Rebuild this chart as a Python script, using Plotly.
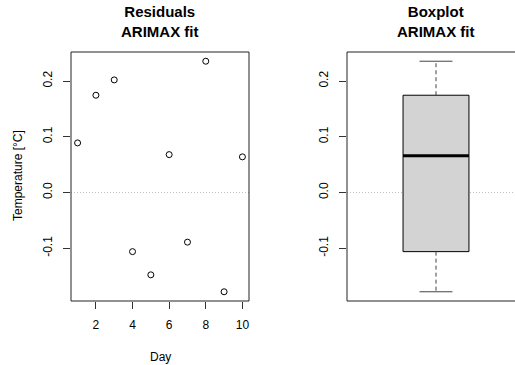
import numpy as np
import plotly.graph_objects as go

# Residuals of the ARIMAX fit, one per day
days = [1, 2, 3, 4, 5, 6, 7, 8, 9, 10]
residuals = [0.089, 0.1745, 0.202, -0.106, -0.1476, 0.068, -0.089, 0.2355, -0.178, 0.064]
x_ticks = [2, 4, 6, 8, 10]
y_ticks = [-0.1, 0.0, 0.1, 0.2]
y_tick_text = ["-0.1", "0.0", "0.1", "0.2"]

W, H = 515, 365
FONT = "Liberation Sans, Arial, sans-serif"


def fivenum(vals):
    s = np.sort(np.asarray(vals, dtype=float))
    n = len(s)
    n4 = np.floor((n + 3) / 2) / 2
    d = np.array([1, n4, (n + 1) / 2, n + 1 - n4, n]) - 1
    return 0.5 * (s[np.floor(d).astype(int)] + s[np.ceil(d).astype(int)])


wlo, q1, med, q3, whi = fivenum(residuals)

# axis ranges with 4% padding on each side
lo, hi = min(residuals), max(residuals)
pad = 0.04 * (hi - lo)
y_range = [lo - pad, hi + pad]
xpad = 0.04 * (max(days) - min(days))
x_range = [min(days) - xpad, max(days) + xpad]

# panel placement in pixels
L1, R1 = 71, 249
L2 = 347
TOP, BOT = 52, 301
px_per_unit = (R1 - L1) / 1.08
x2_range = [0.46, 0.46 + (W - L2) / px_per_unit]

fig = go.Figure()

fig.add_trace(go.Scatter(
    x=days, y=residuals, mode="markers",
    marker=dict(symbol="circle-open", size=6, color="black", line=dict(width=1, color="black")),
    xaxis="x", yaxis="y", showlegend=False, hoverinfo="x+y",
))

# boxplot pieces on the second panel
bx0, bx1 = 0.8, 1.2
cx0, cx1 = 0.9, 1.1
fig.add_trace(go.Scatter(
    x=[bx0, bx1, bx1, bx0, bx0], y=[q1, q1, q3, q3, q1],
    mode="lines", fill="toself", fillcolor="#D3D3D3",
    line=dict(color="black", width=1), xaxis="x2", yaxis="y2", showlegend=False, hoverinfo="skip",
))
fig.add_trace(go.Scatter(
    x=[bx0, bx1], y=[med, med], mode="lines",
    line=dict(color="black", width=3), xaxis="x2", yaxis="y2", showlegend=False, hoverinfo="skip",
))
for a, b in [(q3, whi), (q1, wlo)]:
    fig.add_trace(go.Scatter(
        x=[1, 1], y=[a, b], mode="lines",
        line=dict(color="#444444", width=1, dash="4px,3px"), xaxis="x2", yaxis="y2",
        showlegend=False, hoverinfo="skip",
    ))
for w in [whi, wlo]:
    fig.add_trace(go.Scatter(
        x=[cx0, cx1], y=[w, w], mode="lines",
        line=dict(color="#444444", width=1), xaxis="x2", yaxis="y2",
        showlegend=False, hoverinfo="skip",
    ))

tickfont = dict(family=FONT, size=12, color="black")
ydom = [(H - BOT) / H, (H - TOP) / H]

fig.update_layout(
    width=W, height=H,
    margin=dict(l=0, r=0, t=0, b=0),
    paper_bgcolor="white", plot_bgcolor="white",
    xaxis=dict(domain=[L1 / W, R1 / W], range=x_range, tickvals=x_ticks,
               ticks="outside", ticklen=7, tickcolor="#333333", tickfont=tickfont,
               showgrid=False, zeroline=False, showline=False, ticklabelstandoff=6,
               anchor="y"),
    yaxis=dict(domain=ydom, range=y_range, tickvals=y_ticks, ticktext=y_tick_text,
               ticks="outside", ticklen=7, tickcolor="#333333", tickfont=tickfont, tickangle=-90,
               showgrid=False, zeroline=False, showline=False, ticklabelstandoff=6,
               anchor="x"),
    xaxis2=dict(domain=[L2 / W, 1.0], range=x2_range, showticklabels=False, ticks="",
                showgrid=False, zeroline=False, showline=False, anchor="y2"),
    yaxis2=dict(domain=ydom, range=y_range, tickvals=y_ticks, ticktext=y_tick_text,
                ticks="outside", ticklen=7, tickcolor="#333333", tickfont=tickfont, tickangle=-90,
                showgrid=False, zeroline=False, showline=False, ticklabelstandoff=6,
                anchor="x2"),
)

# frames and dotted zero reference lines
frame = dict(color="#222222", width=1)
fig.add_shape(type="rect", xref="x domain", yref="y domain", x0=0, x1=1, y0=0, y1=1, line=frame)
fig.add_shape(type="line", xref="x2 domain", yref="y2 domain", x0=0, x1=0, y0=0, y1=1, line=frame)
fig.add_shape(type="line", xref="x2 domain", yref="y2 domain", x0=0, x1=1, y0=0, y1=0, line=frame)
fig.add_shape(type="line", xref="x2 domain", yref="y2 domain", x0=0, x1=1, y0=1, y1=1, line=frame)
zl = dict(color="#C0C0C0", width=1, dash="1px,2px")
fig.add_shape(type="line", xref="x domain", yref="y", x0=0, x1=1, y0=0, y1=0, line=zl, layer="below")
fig.add_shape(type="line", xref="x2 domain", yref="y2", x0=0, x1=1, y0=0, y1=0, line=zl, layer="below")

titlefont = dict(family=FONT, size=15, color="black")
fig.add_annotation(text="<b>Residuals</b><br><b>ARIMAX fit</b>", xref="paper", yref="paper",
                   x=160 / W, y=1 - 22 / H, xanchor="center", yanchor="middle",
                   showarrow=False, font=titlefont, align="center")
fig.add_annotation(text="<b>Boxplot</b><br><b>ARIMAX fit</b>", xref="paper", yref="paper",
                   x=436 / W, y=1 - 22 / H, xanchor="center", yanchor="middle",
                   showarrow=False, font=titlefont, align="center")
labfont = dict(family=FONT, size=12, color="black")
fig.add_annotation(text="Day", xref="paper", yref="paper", x=160 / W, y=1 - 357 / H,
                   xanchor="center", yanchor="middle", showarrow=False, font=labfont)
fig.add_annotation(text="Temperature [°C]", xref="paper", yref="paper", x=18 / W, y=1 - 176 / H,
                   xanchor="center", yanchor="middle", showarrow=False, font=labfont, textangle=-90)

fig.write_html("out.html")
